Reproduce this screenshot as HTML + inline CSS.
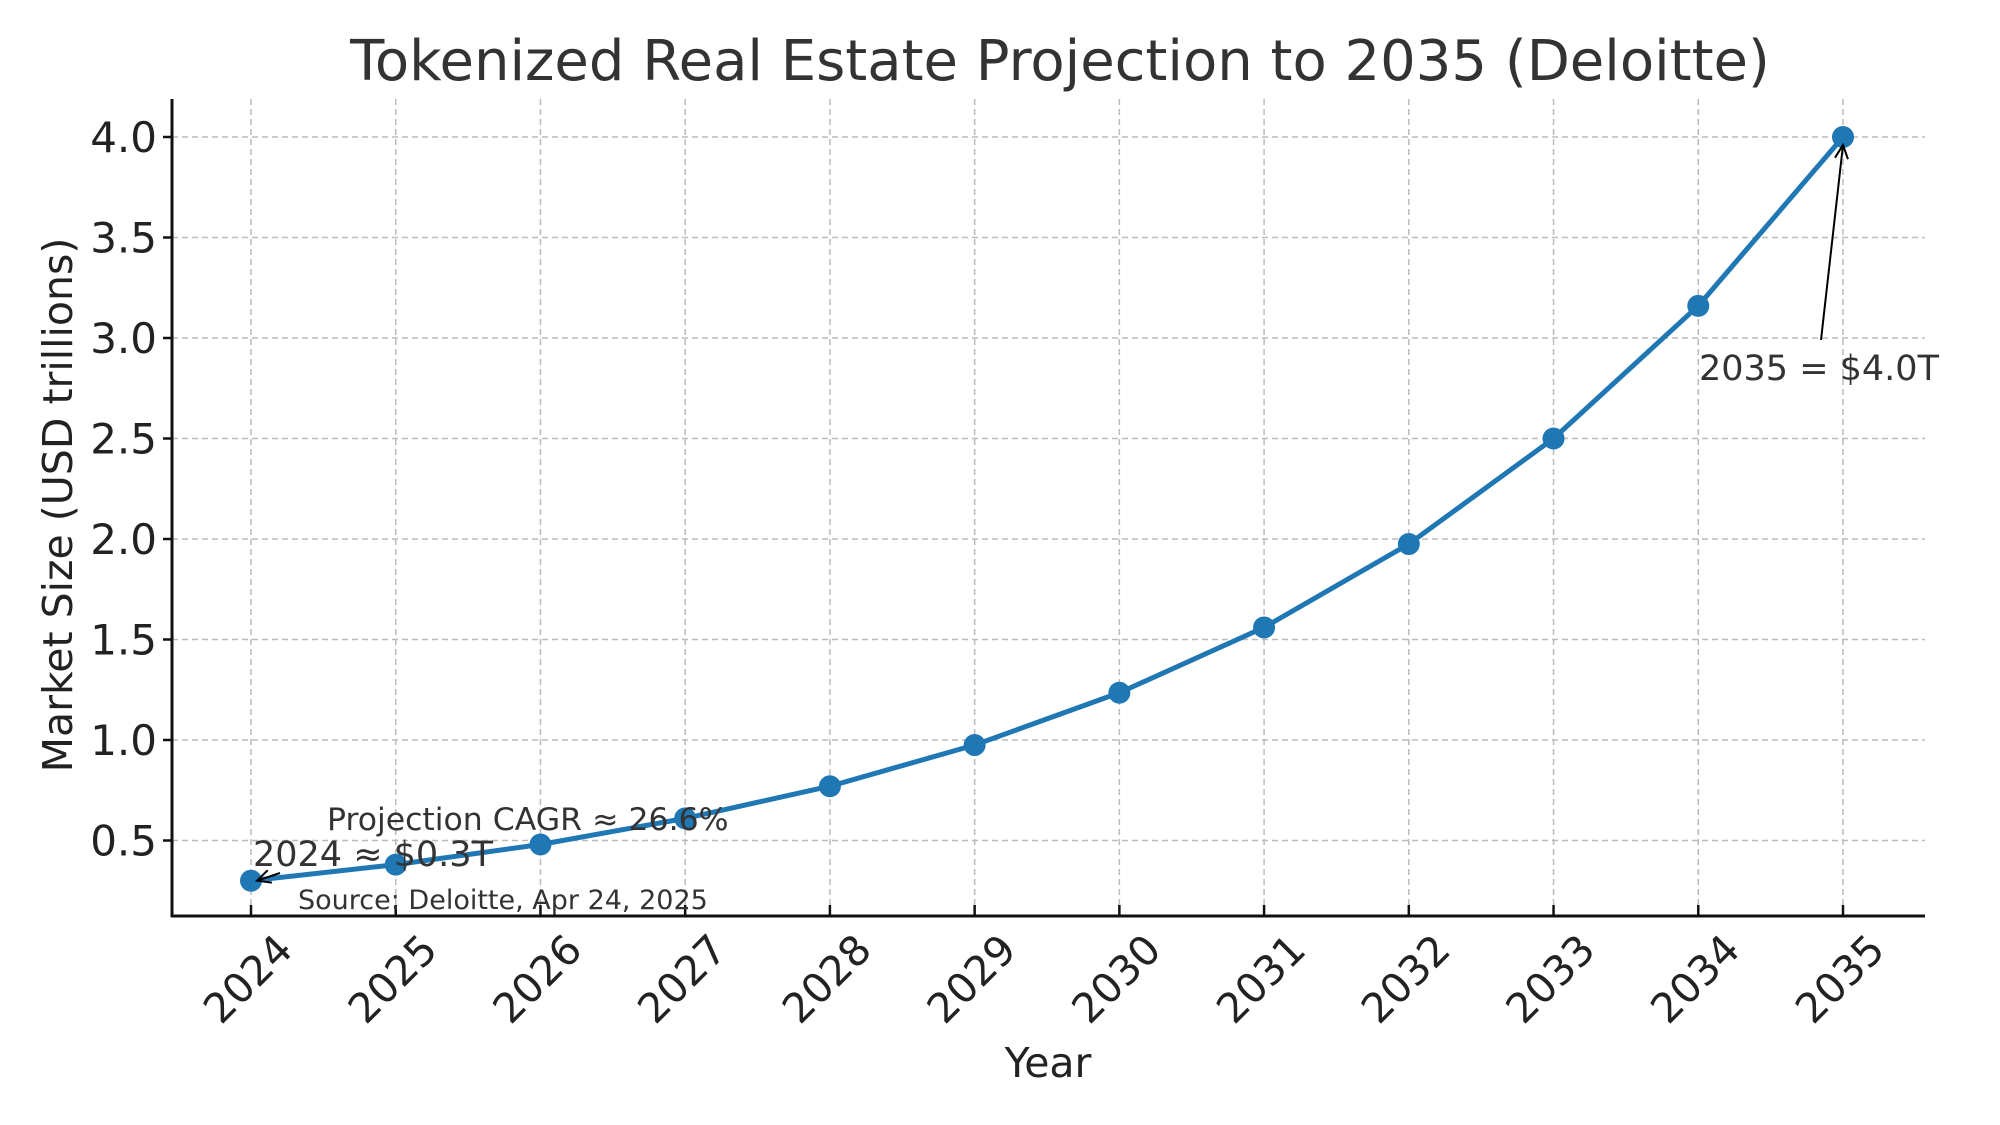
<!DOCTYPE html>
<html><head><meta charset="utf-8"><style>
html,body{margin:0;padding:0;background:#fff}
svg{display:block;font-family:"DejaVu Sans","Liberation Sans",sans-serif}
</style></head><body>
<svg id="chart" width="2000" height="1125" viewBox="0 0 2000 1125">
<text x="1060" y="80" font-size="56" fill="#333" text-anchor="middle">Tokenized Real Estate Projection to 2035 (Deloitte)</text>
<g id="grid"></g>
<g id="axes"></g>
<g id="series"></g>
<text x="1048" y="1077" font-size="41" fill="#222" text-anchor="middle">Year</text>
<text transform="translate(72,505) rotate(-90)" font-size="41" fill="#222" text-anchor="middle">Market Size (USD trillions)</text>
<g id="annot"></g>
</svg>
<script>
const years = [2024,2025,2026,2027,2028,2029,2030,2031,2032,2033,2034,2035];
const values = [0.30,0.38,0.48,0.61,0.77,0.975,1.235,1.56,1.975,2.50,3.16,4.00];
const yTicks = [0.5,1.0,1.5,2.0,2.5,3.0,3.5,4.0];
const yTickLabels = ["0.5","1.0","1.5","2.0","2.5","3.0","3.5","4.0"];

const NS="http://www.w3.org/2000/svg";
const L=172,R=1925,T=99,B=916;
function xs(yr){return 251+(yr-2024)*(1843-251)/11;}
function ys(v){return 137+(4-v)*201;}
function mk(tag,attrs,parent){const e=document.createElementNS(NS,tag);for(const k in attrs)e.setAttribute(k,attrs[k]);parent.appendChild(e);return e;}
const grid=document.getElementById('grid'),axes=document.getElementById('axes'),series=document.getElementById('series'),annot=document.getElementById('annot');

yTicks.forEach((t,i)=>{
  const g=mk('line',{x1:L,x2:R,y1:ys(t),y2:ys(t),stroke:'#bbb','stroke-width':1.5,'stroke-dasharray':'6,4'},grid);
  
  
  const tk=mk('line',{x1:L-9,x2:L,y1:ys(t),y2:ys(t),stroke:'#111','stroke-width':2.5},axes);
  
  
  const tx=mk('text',{x:157,y:ys(t)+15,'font-size':42,fill:'#222','text-anchor':'end'},axes);
  tx.textContent=yTickLabels[i];
  
  
});
years.forEach(yr=>{
  const x=xs(yr);
  const g=mk('line',{x1:x,x2:x,y1:T,y2:B,stroke:'#bbb','stroke-width':1.5,'stroke-dasharray':'6,4'},grid);
  
  
  const tk=mk('line',{x1:x,x2:x,y1:B-11,y2:B,stroke:'#111','stroke-width':2.5},axes);
  
  
  const tx=mk('text',{transform:`translate(${x-3},979) rotate(-45)`,'font-size':41,fill:'#222','text-anchor':'middle','dominant-baseline':'central'},axes);
  tx.textContent=String(yr);
  
  
});
const ax1=mk('line',{x1:L,x2:L,y1:T,y2:B+1,stroke:'#111','stroke-width':3},axes);


const ax2=mk('line',{x1:L-1,x2:R,y1:B,y2:B,stroke:'#111','stroke-width':3},axes);



const pts=years.map((yr,i)=>xs(yr)+','+ys(values[i])).join(' ');
const line=mk('polyline',{points:pts,fill:'none',stroke:'#1f77b4','stroke-width':5,'stroke-linejoin':'round'},series);


years.forEach((yr,i)=>{
  const c=mk('circle',{cx:xs(yr),cy:ys(values[i]),r:11,fill:'#1f77b4'},series);
  
  
});

function text(x,y,s,size,name){const t=mk('text',{x:x,y:y,'font-size':size,fill:'#333'},annot);t.textContent=s;
  
  
  return t;}
function arrow(x1,y1,x2,y2,name){
  const l=mk('line',{x1:x1,y1:y1,x2:x2,y2:y2,stroke:'#000','stroke-width':2},annot);
  
  
  const a=Math.atan2(y2-y1,x2-x1),h=15,s=0.45;
  const p=mk('polyline',{points:`${x2-h*Math.cos(a-s)},${y2-h*Math.sin(a-s)} ${x2},${y2} ${x2-h*Math.cos(a+s)},${y2-h*Math.sin(a+s)}`,fill:'none',stroke:'#000','stroke-width':2},annot);
  
  
}
text(1699,380,'2035 = $4.0T',35,'annotation-2035');
arrow(1821,340,xs(2035),ys(values[11])+8,'arrow-2035');
text(253,866,'2024 ≈ $0.3T',35,'annotation-2024');
arrow(280,873,xs(2024)+6,ys(values[0]),'arrow-2024');
text(327,830,'Projection CAGR ≈ 26.6%',31.5,'cagr-note');
text(298,909,'Source: Deloitte, Apr 24, 2025',27,'source-note');
</script>
</body></html>
